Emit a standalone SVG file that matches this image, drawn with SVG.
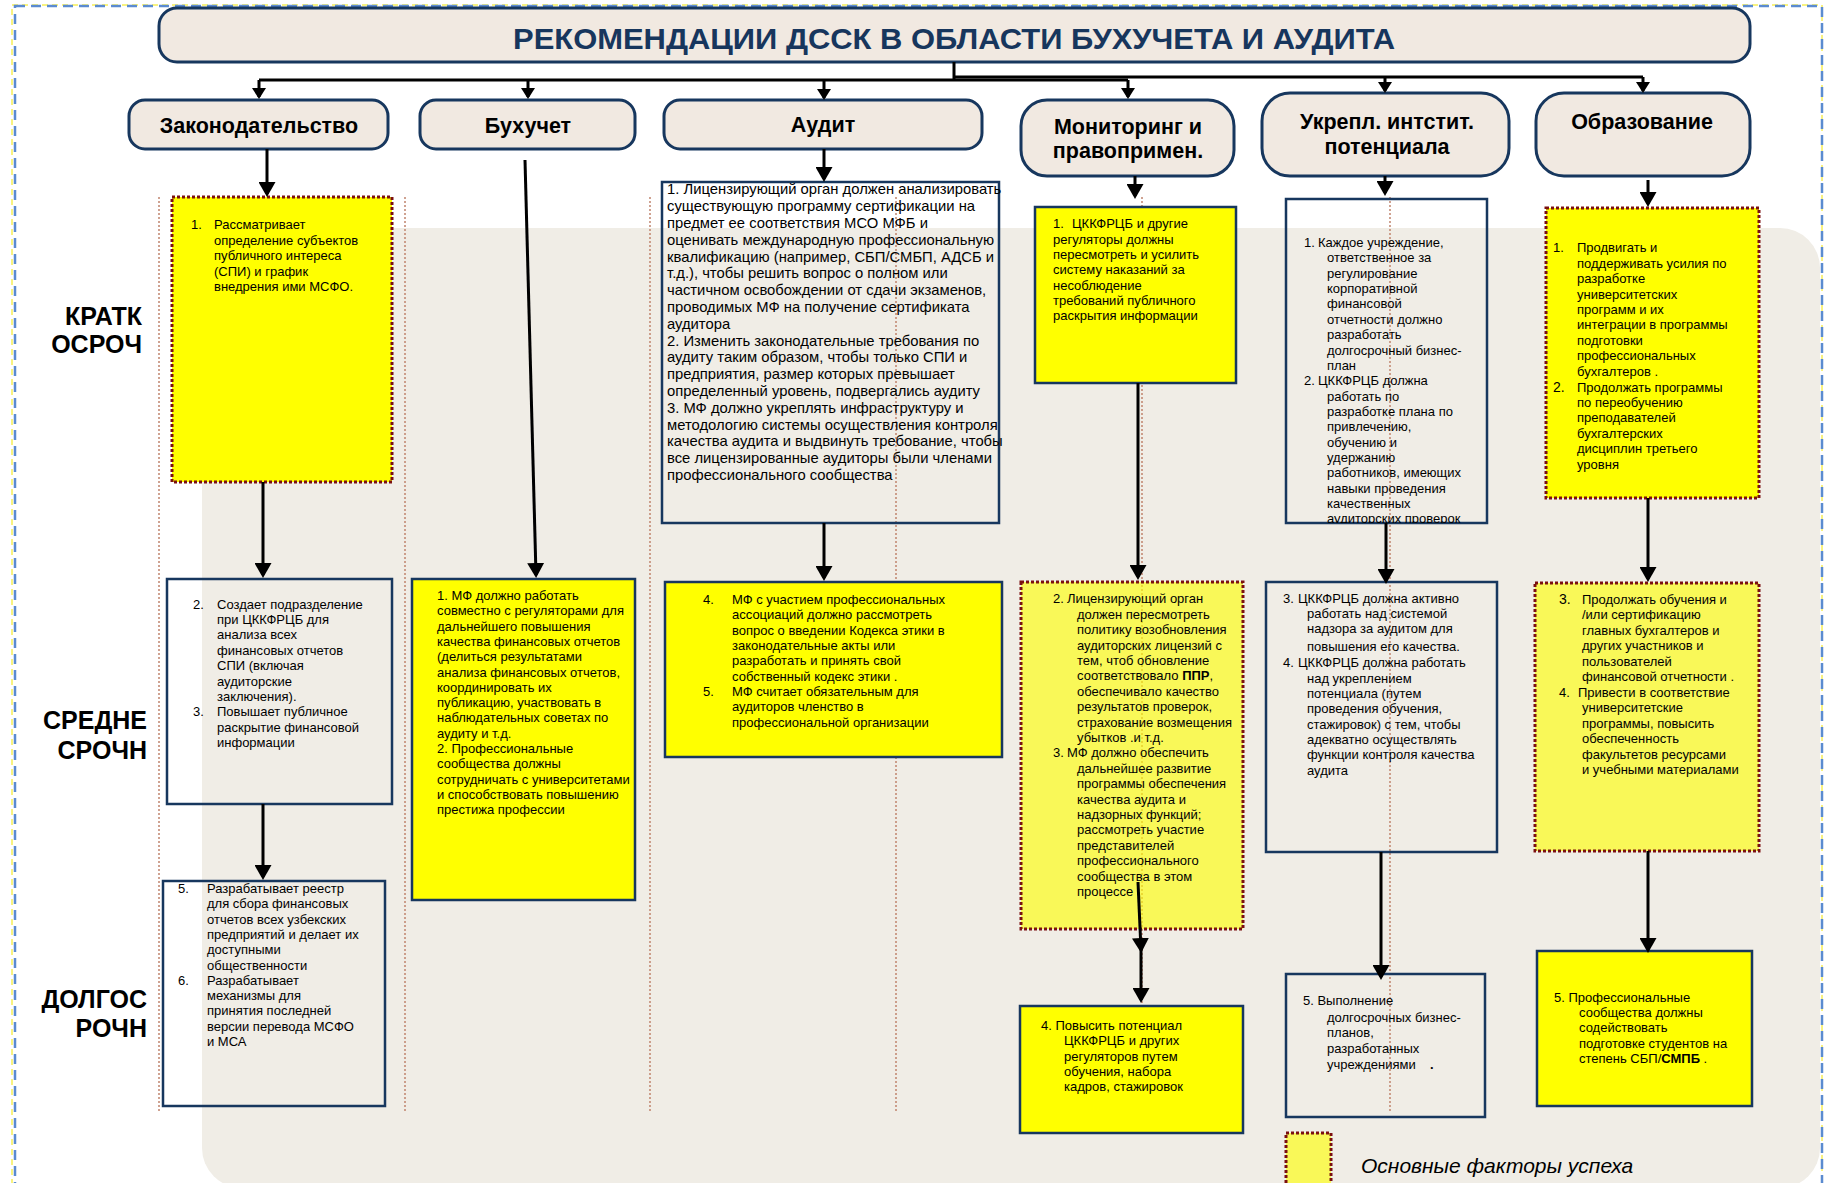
<svg xmlns="http://www.w3.org/2000/svg" width="1827" height="1183" viewBox="0 0 1827 1183">
<defs>
<style>
.hdr{fill:#f1e9e1;stroke:#17375e;stroke-width:3}
.hdrt{font-family:"Liberation Sans",Arial,sans-serif;font-weight:bold;font-size:21.5px;fill:#000;text-anchor:middle}
.row{font-family:"Liberation Sans",Arial,sans-serif;font-weight:bold;font-size:25px;fill:#000;text-anchor:end}
.bx{stroke:#17375e;stroke-width:2.5}
.y{fill:#ffff00}
.py{fill:#ffff00;fill-opacity:0.62}
.nf{fill:none}
.ksf{stroke:#7b1010;stroke-width:3;stroke-dasharray:3 2}
.t{font-family:"Liberation Sans",Arial,sans-serif;font-size:13px;fill:#000}
.a15{font-size:14.8px}
.sep{stroke:#c0846e;stroke-width:1.5;stroke-dasharray:2 2;fill:none}
.c{stroke:#000;stroke-width:3;fill:none}
.big{marker-end:url(#a)}
.sm{marker-end:url(#s)}
</style>
<marker id="a" viewBox="0 0 15 17" refX="12" refY="8.5" markerWidth="15" markerHeight="17" orient="auto" markerUnits="userSpaceOnUse"><path d="M0,0L15,8.5L0,17z" fill="#000"/></marker>
<marker id="s" viewBox="0 0 11 14" refX="9" refY="7" markerWidth="11" markerHeight="14" orient="auto" markerUnits="userSpaceOnUse"><path d="M0,0L11,7L0,14z" fill="#000"/></marker>
<clipPath id="cu1"><rect x="1286" y="199" width="201" height="324"/></clipPath>
</defs>

<g id="page">
<rect x="0" y="0" width="1827" height="1183" fill="#fff"/>
<rect x="12" y="5" width="1810" height="1210" fill="none" stroke="#f2e600" stroke-width="1" stroke-dasharray="6 4"/>
<rect x="15" y="6" width="1807" height="1210" fill="none" stroke="#5b8bd0" stroke-width="2.5" stroke-dasharray="10 6"/>
<rect x="202" y="228" width="1618" height="960" rx="40" fill="#f0ede6"/>
</g>

<g id="separators">
<line class="sep" x1="159" y1="197" x2="159" y2="1111"/>
<line class="sep" x1="405" y1="197" x2="405" y2="1111"/>
<line class="sep" x1="650" y1="197" x2="650" y2="1111"/>
<line class="sep" x1="896" y1="197" x2="896" y2="1111"/>
<line class="sep" x1="1142" y1="197" x2="1142" y2="1111"/>
<line class="sep" x1="1390" y1="197" x2="1390" y2="1111"/>
</g>

<g id="title">
<rect class="hdr" x="159" y="8" width="1591" height="54" rx="18"/>
<text x="513" y="49" font-family="'Liberation Sans',Arial,sans-serif" font-weight="bold" font-size="30" fill="#17365d" textLength="882" lengthAdjust="spacingAndGlyphs">РЕКОМЕНДАЦИИ ДССК В ОБЛАСТИ БУХУЧЕТА И АУДИТА</text>
</g>

<g id="row-labels">
<text class="row" x="142" y="325">КРАТК</text>
<text class="row" x="142" y="353">ОСРОЧ</text>
<text class="row" x="147" y="729">СРЕДНЕ</text>
<text class="row" x="147" y="759">СРОЧН</text>
<text class="row" x="147" y="1008">ДОЛГОС</text>
<text class="row" x="147" y="1037">РОЧН</text>
</g>

<g id="h-zakon"><rect class="hdr" x="129" y="100" width="259" height="49" rx="16"/><text class="hdrt" x="259" y="133">Законодательство</text></g>
<g id="h-buh"><rect class="hdr" x="420" y="100" width="215" height="49" rx="16"/><text class="hdrt" x="528" y="133">Бухучет</text></g>
<g id="h-audit"><rect class="hdr" x="664" y="100" width="318" height="49" rx="16"/><text class="hdrt" x="823" y="132">Аудит</text></g>
<g id="h-monitor"><rect class="hdr" x="1021" y="100" width="213" height="76" rx="26"/><text class="hdrt" x="1128" y="134">Мониторинг и</text><text class="hdrt" x="1128" y="158">правопримен.</text></g>
<g id="h-inst"><rect class="hdr" x="1262" y="93" width="247" height="83" rx="28"/><text class="hdrt" x="1387" y="129">Укрепл. интстит.</text><text class="hdrt" x="1387" y="154">потенциала</text></g>
<g id="h-edu"><rect class="hdr" x="1536" y="93" width="214" height="83" rx="28"/><text class="hdrt" x="1642" y="129">Образование</text></g>

<g id="k1">
<rect class="y ksf" x="172" y="197" width="220" height="285"/>
<text class="t" x="191" y="229">1.</text>
<text class="t"><tspan x="214" y="229">Рассматривает</tspan><tspan x="214" y="244.5">определение субъектов</tspan><tspan x="214" y="260">публичного  интереса</tspan><tspan x="214" y="275.5">(СПИ) и  график</tspan><tspan x="214" y="291">внедрения  ими  МСФО.</tspan></text>
</g>

<g id="k2">
<rect class="nf bx" x="167" y="579" width="225" height="225"/>
<text class="t" x="193" y="608.5">2.</text>
<text class="t"><tspan x="217" y="608.5">Создает подразделение</tspan><tspan x="217" y="623.9">при ЦККФРЦБ  для</tspan><tspan x="217" y="639.3">анализа всех</tspan><tspan x="217" y="654.7">финансовых отчетов</tspan><tspan x="217" y="670.1">СПИ (включая</tspan><tspan x="217" y="685.5">аудиторские</tspan><tspan x="217" y="700.9">заключения).</tspan></text>
<text class="t" x="193" y="716.3">3.</text>
<text class="t"><tspan x="217" y="716.3">Повышает публичное</tspan><tspan x="217" y="731.7">раскрытие  финансовой</tspan><tspan x="217" y="747.1">информации</tspan></text>
</g>

<g id="k5">
<rect class="nf bx" x="163" y="881" width="222" height="225"/>
<text class="t" x="178" y="893">5.</text>
<text class="t"><tspan x="207" y="893">Разрабатывает реестр</tspan><tspan x="207" y="908.3">для сбора финансовых</tspan><tspan x="207" y="923.6">отчетов всех узбекских</tspan><tspan x="207" y="938.9">предприятий и делает их</tspan><tspan x="207" y="954.2">доступными</tspan><tspan x="207" y="969.5">общественности</tspan></text>
<text class="t" x="178" y="984.8">6.</text>
<text class="t"><tspan x="207" y="984.8">Разрабатывает</tspan><tspan x="207" y="1000.1">механизмы для</tspan><tspan x="207" y="1015.4">принятия последней</tspan><tspan x="207" y="1030.7">версии перевода МСФО</tspan><tspan x="207" y="1046">и МСА</tspan></text>
</g>

<g id="b1">
<rect class="y bx" x="412" y="579" width="223" height="321"/>
<text class="t"><tspan x="437" y="600">1. МФ должно работать</tspan><tspan x="437" y="615.3">совместно с регуляторами для</tspan><tspan x="437" y="630.6">дальнейшего повышения</tspan><tspan x="437" y="645.9">качества финансовых отчетов</tspan><tspan x="437" y="661.2">(делиться результатами</tspan><tspan x="437" y="676.5">анализа финансовых отчетов,</tspan><tspan x="437" y="691.8">координировать их</tspan><tspan x="437" y="707.1">публикацию, участвовать в</tspan><tspan x="437" y="722.4">наблюдательных советах по</tspan><tspan x="437" y="737.7">аудиту и т.д.</tspan><tspan x="437" y="753">2. Профессиональные</tspan><tspan x="437" y="768.3">сообщества должны</tspan><tspan x="437" y="783.6">сотрудничать с университетами</tspan><tspan x="437" y="798.9">и способствовать  повышению</tspan><tspan x="437" y="814.2">престижа профессии</tspan></text>
</g>

<g id="a1">
<rect class="nf bx" x="662" y="182" width="337" height="341"/>
<text class="t a15"><tspan x="667" y="194.3">1. Лицензирующий орган должен анализировать</tspan><tspan x="667" y="211.1">существующую программу сертификации на</tspan><tspan x="667" y="227.9">предмет ее соответствия  МСО МФБ и</tspan><tspan x="667" y="244.7">оценивать международную профессиональную</tspan><tspan x="667" y="261.5">квалификацию (например, СБП/СМБП, АДСБ и</tspan><tspan x="667" y="278.3">т.д.), чтобы решить вопрос о  полном или</tspan><tspan x="667" y="295.1">частичном освобождении от сдачи экзаменов,</tspan><tspan x="667" y="311.9">проводимых МФ на получение сертификата</tspan><tspan x="667" y="328.7">аудитора</tspan><tspan x="667" y="345.5">2. Изменить законодательные требования по</tspan><tspan x="667" y="362.3">аудиту таким образом, чтобы только СПИ и</tspan><tspan x="667" y="379.1">предприятия, размер которых превышает</tspan><tspan x="667" y="395.9">определенный уровень, подвергались аудиту</tspan><tspan x="667" y="412.7">3. МФ должно укреплять инфраструктуру и</tspan><tspan x="667" y="429.5">методологию системы осуществления контроля</tspan><tspan x="667" y="446.3">качества аудита и выдвинуть требование, чтобы</tspan><tspan x="667" y="463.1">все лицензированные аудиторы были членами</tspan><tspan x="667" y="479.9">профессионального сообщества</tspan></text>
</g>

<g id="a2">
<rect class="y bx" x="665" y="582" width="337" height="175"/>
<text class="t" x="703" y="604">4.</text>
<text class="t"><tspan x="732" y="604">МФ с участием профессиональных</tspan><tspan x="732" y="619.3">ассоциаций должно рассмотреть</tspan><tspan x="732" y="634.6">вопрос о введении Кодекса этики в</tspan><tspan x="732" y="649.9">законодательные акты  или</tspan><tspan x="732" y="665.2">разработать и принять свой</tspan><tspan x="732" y="680.5">собственный кодекс этики .</tspan></text>
<text class="t" x="703" y="696">5.</text>
<text class="t"><tspan x="732" y="696">МФ считает обязательным  для</tspan><tspan x="732" y="711.3">аудиторов членство  в</tspan><tspan x="732" y="726.6">профессиональной организации</tspan></text>
</g>

<g id="m1">
<rect class="y bx" x="1035" y="207" width="201" height="176"/>
<text class="t"><tspan x="1053" y="228.3">1.</tspan><tspan x="1072" y="228.3">ЦККФРЦБ и другие</tspan><tspan x="1053" y="243.6">регуляторы должны</tspan><tspan x="1053" y="258.9">пересмотреть и усилить</tspan><tspan x="1053" y="274.2">систему наказаний  за</tspan><tspan x="1053" y="289.5">несоблюдение</tspan><tspan x="1053" y="304.8">требований публичного</tspan><tspan x="1053" y="320.1">раскрытия информации</tspan></text>
</g>

<g id="m2">
<rect class="py ksf" x="1021" y="582" width="222" height="347"/>
<text class="t"><tspan x="1053" y="603.3">2.</tspan><tspan x="1067" y="603.3">Лицензирующий орган</tspan><tspan x="1077" y="618.7">должен пересмотреть</tspan><tspan x="1077" y="634.1">политику возобновления</tspan><tspan x="1077" y="649.5">аудиторских лицензий с</tspan><tspan x="1077" y="664.9">тем, чтоб обновление</tspan><tspan x="1077" y="680.3">соответствовало <tspan font-weight="bold">ППР</tspan>,</tspan><tspan x="1077" y="695.7">обеспечивало качество</tspan><tspan x="1077" y="711.1">результатов проверок,</tspan><tspan x="1077" y="726.5">страхование возмещения</tspan><tspan x="1077" y="741.9">убытков  .и т.д.</tspan><tspan x="1053" y="757.3">3.</tspan><tspan x="1067" y="757.3">МФ должно обеспечить</tspan><tspan x="1077" y="772.7">дальнейшее развитие</tspan><tspan x="1077" y="788.1">программы обеспечения</tspan><tspan x="1077" y="803.5">качества аудита и</tspan><tspan x="1077" y="818.9">надзорных функций;</tspan><tspan x="1077" y="834.3">рассмотреть участие</tspan><tspan x="1077" y="849.7">представителей</tspan><tspan x="1077" y="865.1">профессионального</tspan><tspan x="1077" y="880.5">сообщества в этом</tspan><tspan x="1077" y="895.9">процессе</tspan></text>
</g>

<g id="m4">
<rect class="y bx" x="1020" y="1006" width="223" height="127"/>
<text class="t"><tspan x="1041" y="1030">4. Повысить потенциал</tspan><tspan x="1064" y="1045.3">ЦККФРЦБ и других</tspan><tspan x="1064" y="1060.6">регуляторов  путем</tspan><tspan x="1064" y="1075.9">обучения, набора</tspan><tspan x="1064" y="1091.2">кадров, стажировок</tspan></text>
</g>

<g id="u1">
<rect class="nf bx" x="1286" y="199" width="201" height="324"/>
<text class="t" clip-path="url(#cu1)"><tspan x="1304" y="247">1.</tspan><tspan x="1318" y="247">Каждое учреждение,</tspan><tspan x="1327" y="262.4">ответственное за</tspan><tspan x="1327" y="277.7">регулирование</tspan><tspan x="1327" y="293.1">корпоративной</tspan><tspan x="1327" y="308.4">финансовой</tspan><tspan x="1327" y="323.8">отчетности должно</tspan><tspan x="1327" y="339.1">разработать</tspan><tspan x="1327" y="354.5">долгосрочный бизнес-</tspan><tspan x="1327" y="369.8">план</tspan><tspan x="1304" y="385.2">2.</tspan><tspan x="1318" y="385.2">ЦККФРЦБ должна</tspan><tspan x="1327" y="400.5">работать по</tspan><tspan x="1327" y="415.9">разработке плана по</tspan><tspan x="1327" y="431.2">привлечению,</tspan><tspan x="1327" y="446.6">обучению и</tspan><tspan x="1327" y="461.9">удержанию</tspan><tspan x="1327" y="477.3">работников, имеющих</tspan><tspan x="1327" y="492.6">навыки проведения</tspan><tspan x="1327" y="508">качественных</tspan><tspan x="1327" y="523.3">аудиторских проверок</tspan></text>
</g>

<g id="u3">
<rect class="nf bx" x="1266" y="582" width="231" height="270"/>
<text class="t"><tspan x="1283" y="603.3">3.</tspan><tspan x="1298" y="603.3">ЦККФРЦБ должна активно</tspan><tspan x="1307" y="618.3">работать над системой</tspan><tspan x="1307" y="633.3">надзора за аудитом для</tspan><tspan x="1307" y="651">повышения его качества.</tspan><tspan x="1283" y="666.7">4.</tspan><tspan x="1298" y="666.7">ЦККФРЦБ должна работать</tspan><tspan x="1307" y="682.7">над укреплением</tspan><tspan x="1307" y="698.3">потенциала (путем</tspan><tspan x="1307" y="713.3">проведения обучения,</tspan><tspan x="1307" y="729">стажировок) с тем, чтобы</tspan><tspan x="1307" y="744">адекватно осуществлять</tspan><tspan x="1307" y="759.3">функции контроля качества</tspan><tspan x="1307" y="775">аудита</tspan></text>
</g>

<g id="u5">
<rect class="nf bx" x="1286" y="974" width="199" height="143"/>
<text class="t"><tspan x="1303" y="1005">5. Выполнение</tspan><tspan x="1327" y="1021.7">долгосрочных бизнес-</tspan><tspan x="1327" y="1036.7">планов,</tspan><tspan x="1327" y="1052.7">разработанных</tspan><tspan x="1327" y="1069.3">учреждениями</tspan><tspan x="1430" y="1069.3" font-weight="bold">.</tspan></text>
</g>

<g id="e1">
<rect class="y ksf" x="1546" y="208" width="213" height="290"/>
<text class="t"><tspan x="1553" y="252.3">1.</tspan><tspan x="1577" y="252.3">Продвигать и</tspan><tspan x="1577" y="267.7">поддерживать усилия по</tspan><tspan x="1577" y="283.1">разработке</tspan><tspan x="1577" y="298.5">университетских</tspan><tspan x="1577" y="313.9">программ и их</tspan><tspan x="1577" y="329.3">интеграции в программы</tspan><tspan x="1577" y="344.7">подготовки</tspan><tspan x="1577" y="360.1">профессиональных</tspan><tspan x="1577" y="375.5">бухгалтеров .</tspan><tspan x="1553" y="391.5" font-size="14">2.</tspan><tspan x="1577" y="391.5">Продолжать программы</tspan><tspan x="1577" y="406.9">по переобучению</tspan><tspan x="1577" y="422.3">преподавателей</tspan><tspan x="1577" y="437.7">бухгалтерских</tspan><tspan x="1577" y="453.1">дисциплин третьего</tspan><tspan x="1577" y="468.5">уровня</tspan></text>
</g>

<g id="e3">
<rect class="py ksf" x="1535" y="583" width="224" height="268"/>
<text class="t"><tspan x="1559" y="604" font-size="14">3.</tspan><tspan x="1582" y="604">Продолжать обучения и</tspan><tspan x="1582" y="619.4">/или сертификацию</tspan><tspan x="1582" y="634.8">главных бухгалтеров и</tspan><tspan x="1582" y="650.2">других участников и</tspan><tspan x="1582" y="665.6">пользователей</tspan><tspan x="1582" y="681">финансовой отчетности .</tspan><tspan x="1559" y="697">4.</tspan><tspan x="1578" y="697">Привести в соответствие</tspan><tspan x="1582" y="712.4">университетские</tspan><tspan x="1582" y="727.8">программы, повысить</tspan><tspan x="1582" y="743.2">обеспеченность</tspan><tspan x="1582" y="758.6">факультетов ресурсами</tspan><tspan x="1582" y="774">и учебными материалами</tspan></text>
</g>

<g id="e5">
<rect class="y bx" x="1537" y="951" width="215" height="155"/>
<text class="t"><tspan x="1554" y="1001.7">5. Профессиональные</tspan><tspan x="1579" y="1017.3">сообщества должны</tspan><tspan x="1579" y="1032.3">содействовать</tspan><tspan x="1579" y="1047.7">подготовке студентов на</tspan><tspan x="1579" y="1062.7">степень СБП/<tspan font-weight="bold">СМПБ</tspan> .</tspan></text>
</g>

<g id="legend">
<rect class="py ksf" x="1286" y="1133" width="45" height="60"/>
<text x="1361" y="1173" font-family="'Liberation Sans',Arial,sans-serif" font-style="italic" font-size="21" fill="#000">Основные факторы успеха</text>
</g>

<g id="connectors">
<path class="c" d="M954,62V80"/>
<path class="c" d="M259,80H1128"/>
<path class="c" d="M954,77H1643"/>
<path class="c sm" d="M259,80V97"/>
<path class="c sm" d="M528,80V97"/>
<path class="c sm" d="M824,80V98"/>
<path class="c sm" d="M1128,80V97"/>
<path class="c sm" d="M1385,77V91"/>
<path class="c sm" d="M1643,77V91"/>
<path class="c big" d="M267,149V194"/>
<path class="c big" d="M263,482V575"/>
<path class="c big" d="M263,804V877"/>
<path class="c big" d="M525,160L536,575"/>
<path class="c big" d="M824,149V179"/>
<path class="c big" d="M824,523V578"/>
<path class="c big" d="M1135,176V196"/>
<path class="c big" d="M1138,383V577"/>
<path class="c big" d="M1138,882L1141,950"/>
<path class="c big" d="M1141,945V1000"/>
<path class="c big" d="M1385,176V193"/>
<path class="c big" d="M1386,523V581"/>
<path class="c big" d="M1381,852V977"/>
<path class="c big" d="M1648,180V204"/>
<path class="c big" d="M1648,498V579"/>
<path class="c big" d="M1648,851V950"/>
</g>
</svg>
